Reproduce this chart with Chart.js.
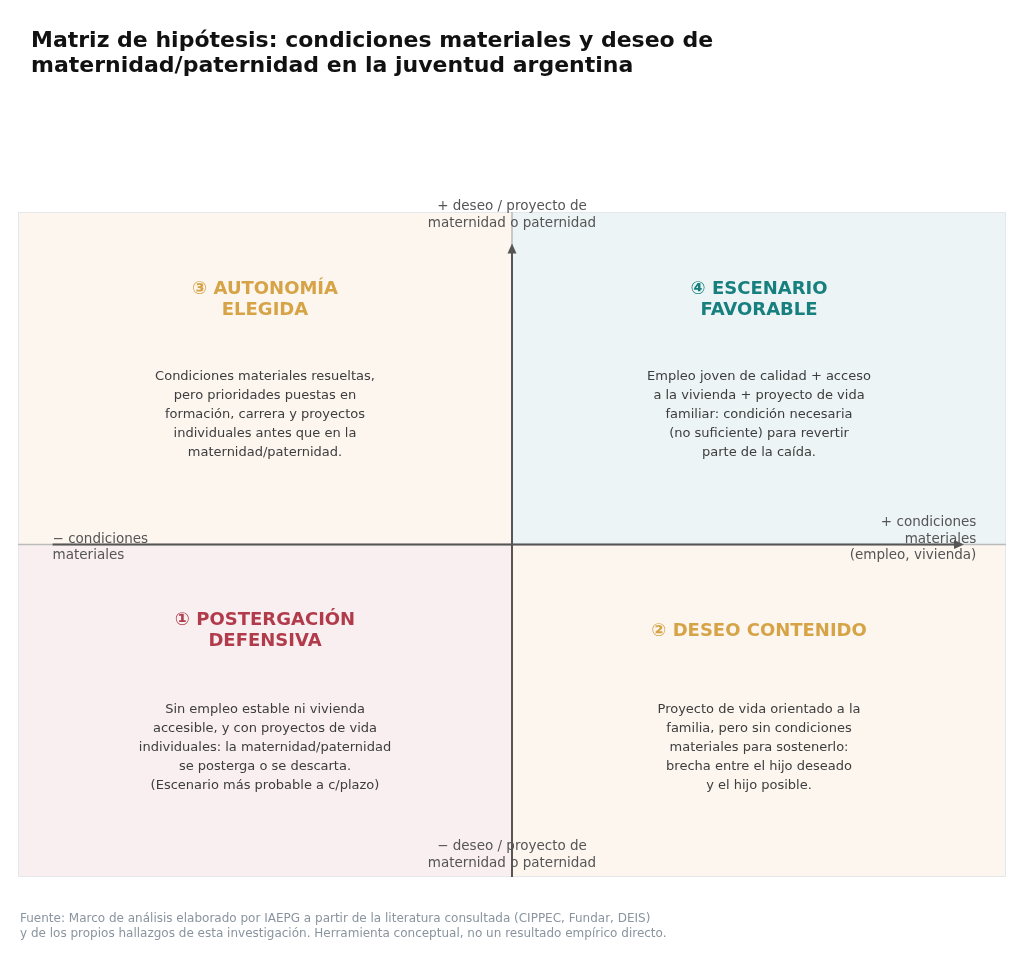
<!DOCTYPE html>
<html><head><meta charset="utf-8">
<script src="https://cdn.jsdelivr.net/npm/chart.js@4/dist/chart.umd.min.js"></script>
<style>html,body{margin:0;padding:0;background:#fff}#w{width:1024px;height:953px;position:relative}</style>
</head><body><div id="w"><canvas id="c"></canvas></div>
<script>
const quadrantIds = ['q3','q4','q1','q2'];
const quadrantX = [-0.5, 0.5, -0.5, 0.5];
const quadrantTitleY = [0.735, 0.735, -0.26, -0.26];
const quadrantBodyY = [0.39, 0.39, -0.61, -0.61];
const quadrantTitles = [['③ AUTONOMÍA','ELEGIDA'],['④ ESCENARIO','FAVORABLE'],['① POSTERGACIÓN','DEFENSIVA'],['② DESEO CONTENIDO']];
const quadrantBodies = [
 ['Condiciones materiales resueltas,','pero prioridades puestas en','formación, carrera y proyectos','individuales antes que en la','maternidad/paternidad.'],
 ['Empleo joven de calidad + acceso','a la vivienda + proyecto de vida','familiar: condición necesaria','(no suficiente) para revertir','parte de la caída.'],
 ['Sin empleo estable ni vivienda','accesible, y con proyectos de vida','individuales: la maternidad/paternidad','se posterga o se descarta.','(Escenario más probable a c/plazo)'],
 ['Proyecto de vida orientado a la','familia, pero sin condiciones','materiales para sostenerlo:','brecha entre el hijo deseado','y el hijo posible.']];
const quadrantColors = ['#d6a347','#17807e','#b23b4b','#d6a347'];
const quadrantBg = ['#fcf6ef','#edf4f6','#f9eff0','#fcf6ef'];
const title = ['Matriz de hipótesis: condiciones materiales y deseo de','maternidad/paternidad en la juventud argentina'];
const footer = ['Fuente: Marco de análisis elaborado por IAEPG a partir de la literatura consultada (CIPPEC, Fundar, DEIS)','y de los propios hallazgos de esta investigación. Herramienta conceptual, no un resultado empírico directo.'];
const F = '"DejaVu Sans", sans-serif';

const plugin = {
 id:'quad',
 beforeDatasetsDraw(chart){
  const ctx=chart.ctx, xs=chart.scales.x, ys=chart.scales.y;
  const X=v=>xs.getPixelForValue(v), Y=v=>ys.getPixelForValue(v);
  const rects=[[-1,0,1,0],[0,1,1,0],[-1,0,0,-1],[0,1,0,-1]];
  ctx.save();
  rects.forEach((r,i)=>{ctx.fillStyle=quadrantBg[i];ctx.fillRect(X(r[0]),Y(r[2]),X(r[1])-X(r[0]),Y(r[3])-Y(r[2]));});
  ctx.strokeStyle='#e4e8ec';ctx.lineWidth=1;ctx.strokeRect(X(-1)+0.5,Y(1)+0.5,X(1)-X(-1)-1,Y(-1)-Y(1)-1);
  // light full lines
  ctx.strokeStyle='#bbbbbb';ctx.lineWidth=1.5;
  ctx.beginPath();ctx.moveTo(X(-1),Y(0));ctx.lineTo(X(1),Y(0));ctx.moveTo(X(0),Y(1));ctx.lineTo(X(0),Y(-1));ctx.stroke();
  // dark arrows
  ctx.strokeStyle='#555';ctx.fillStyle='#555';ctx.lineWidth=2;
  const ax0=X(-0.93), ax1=X(0.915), ay1=Y(0.905);
  ctx.beginPath();ctx.moveTo(ax0,Y(0));ctx.lineTo(ax1-8,Y(0));ctx.moveTo(X(0),Y(-1));ctx.lineTo(X(0),ay1+8);ctx.stroke();
  ctx.beginPath();ctx.moveTo(ax1,Y(0));ctx.lineTo(ax1-10,Y(0)-4.5);ctx.lineTo(ax1-10,Y(0)+4.5);ctx.fill();
  ctx.beginPath();ctx.moveTo(X(0),ay1);ctx.lineTo(X(0)-4.5,ay1+10);ctx.lineTo(X(0)+4.5,ay1+10);ctx.fill();
  // quadrant texts
  ctx.textBaseline='middle';ctx.textAlign='center';
  quadrantIds.forEach((id,i)=>{
   ctx.fillStyle=quadrantColors[i];ctx.font='bold 18px '+F;
   const t=quadrantTitles[i], ty=Y(quadrantTitleY[i]);
   t.forEach((s,k)=>ctx.fillText(s,X(quadrantX[i]),ty+(k-(t.length-1)/2)*21));
   ctx.fillStyle='#3d3d3d';ctx.font='13px '+F;
   const b=quadrantBodies[i], by=Y(quadrantBodyY[i]);
   b.forEach((s,k)=>ctx.fillText(s,X(quadrantX[i]),by+(k-(b.length-1)/2)*19));
  });
  // axis labels
  ctx.fillStyle='#555';ctx.font='13.5px '+F;
  ctx.fillText('+ deseo / proyecto de',X(0),Y(1)-6);ctx.fillText('maternidad o paternidad',X(0),Y(1)+11);
  ctx.fillText('− deseo / proyecto de',X(0),Y(-1)-31);ctx.fillText('maternidad o paternidad',X(0),Y(-1)-14);
  ctx.textAlign='left';
  ctx.fillText('− condiciones',X(-0.93),Y(0)-5);ctx.fillText('materiales',X(-0.93),Y(0)+11);
  ctx.textAlign='right';
  ctx.fillText('+ condiciones',X(0.94),Y(0)-22);ctx.fillText('materiales',X(0.94),Y(0)-5);ctx.fillText('(empleo, vivienda)',X(0.94),Y(0)+11);
  // title & footer
  ctx.textAlign='left';ctx.fillStyle='#111';ctx.font='bold 22px '+F;
  ctx.fillText(title[0],31,41);ctx.fillText(title[1],31,66);
  ctx.fillStyle='#8a949f';ctx.font='12px '+F;
  ctx.fillText(footer[0],20,919);ctx.fillText(footer[1],20,934);
  ctx.restore();
 }
};
new Chart(document.getElementById('c'),{
 type:'scatter',
 data:{datasets:[{data:[]}]},
 options:{responsive:true,maintainAspectRatio:false,animation:false,
  layout:{padding:{left:18,right:18,top:212,bottom:76}},
  plugins:{legend:{display:false},tooltip:{enabled:false}},
  scales:{x:{display:false,min:-1,max:1},y:{display:false,min:-1,max:1}}},
 plugins:[plugin]
});
</script></body></html>
